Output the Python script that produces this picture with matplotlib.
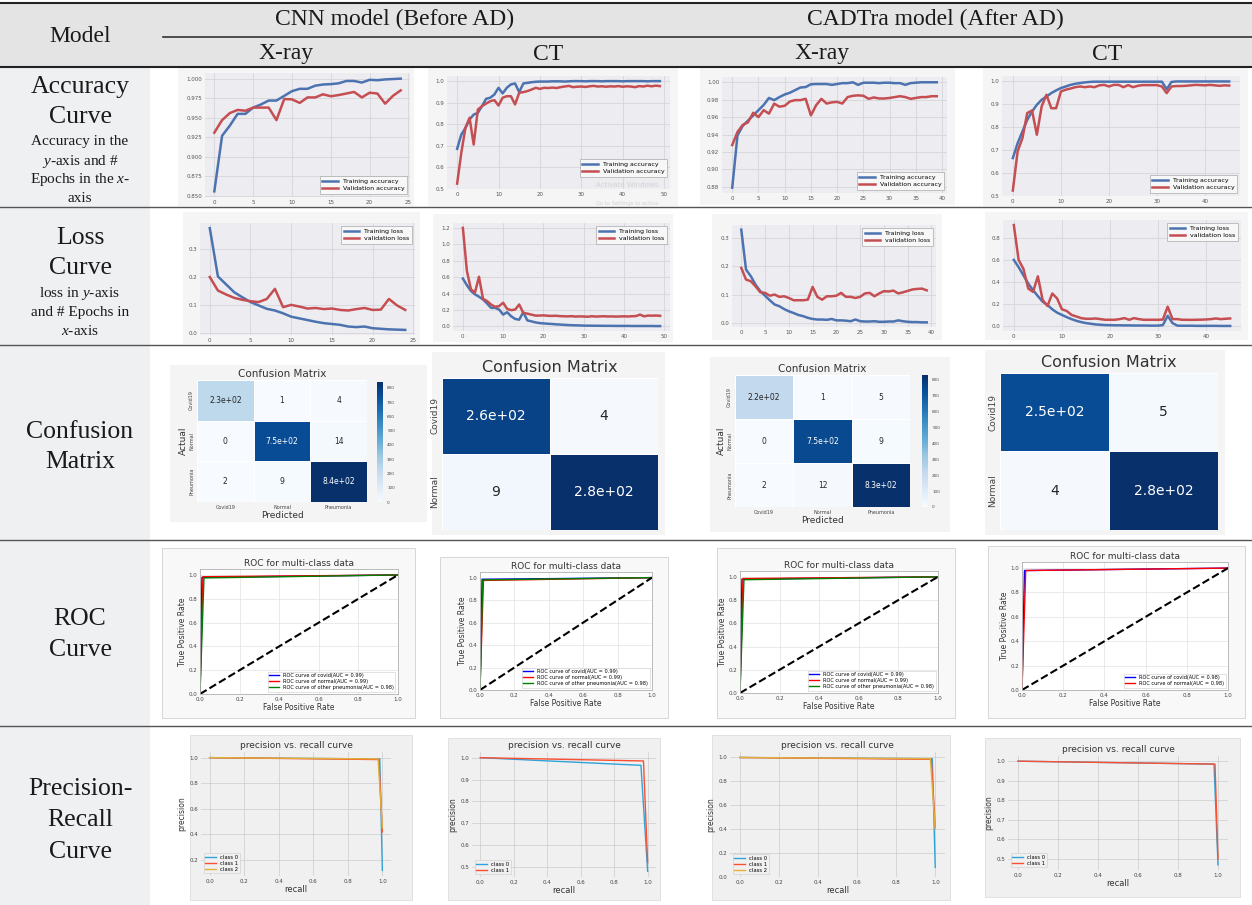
import numpy as np
import matplotlib
matplotlib.use('Agg')
import matplotlib.pyplot as plt
from matplotlib.patches import Rectangle
from matplotlib.lines import Line2D
from matplotlib.ticker import FormatStrFormatter

plt.rcParams['mathtext.fontset'] = 'custom'
plt.rcParams['mathtext.rm'] = 'Liberation Serif'
plt.rcParams['mathtext.it'] = 'Liberation Serif:italic'

# ---- data ----
acc_xray_cnn_train = [0.856, 0.927, 0.940, 0.955, 0.955, 0.963, 0.967, 0.972, 0.972, 0.978,
                      0.984, 0.987, 0.987, 0.991, 0.9925, 0.993, 0.994, 0.997, 0.997, 0.995,
                      0.9985, 0.998, 0.999, 0.9995, 1.0]
acc_xray_cnn_val = [0.931, 0.947, 0.956, 0.960, 0.959, 0.963, 0.963, 0.963, 0.947, 0.974,
                    0.9735, 0.969, 0.976, 0.976, 0.980, 0.9775, 0.979, 0.981, 0.983, 0.976,
                    0.982, 0.981, 0.968, 0.978, 0.985]

acc_ct_cnn_train = [0.686, 0.752, 0.783, 0.822, 0.845, 0.853, 0.884, 0.918, 0.923, 0.938,
                    0.969, 0.943, 0.969, 0.985, 0.989, 0.949, 0.989, 0.992, 0.995, 0.997,
                    0.998, 0.998, 0.998, 0.999, 0.999, 0.999, 0.998, 0.999, 1.0, 1.0,
                    1.0, 0.999, 1.0, 1.0, 1.0, 0.999, 1.0, 1.0, 1.0, 1.0,
                    0.999, 1.0, 1.0, 1.0, 1.0, 1.0, 0.999, 1.0, 1.0, 1.0]
acc_ct_cnn_val = [0.525, 0.667, 0.783, 0.830, 0.706, 0.868, 0.884, 0.896, 0.907, 0.912,
                  0.887, 0.923, 0.930, 0.930, 0.892, 0.946, 0.949, 0.954, 0.961, 0.969,
                  0.964, 0.969, 0.968, 0.970, 0.968, 0.972, 0.975, 0.978, 0.972, 0.974,
                  0.975, 0.973, 0.976, 0.978, 0.975, 0.976, 0.974, 0.976, 0.975, 0.977,
                  0.974, 0.976, 0.975, 0.972, 0.977, 0.975, 0.979, 0.976, 0.979, 0.977]

acc_xray_cad_train = [0.879, 0.939, 0.950, 0.956, 0.962, 0.968, 0.974, 0.982, 0.9795, 0.983,
                      0.986, 0.988, 0.991, 0.994, 0.9945, 0.9977, 0.998, 0.998, 0.998, 0.997,
                      0.998, 0.999, 0.999, 1.0, 0.997, 0.9995, 0.9995, 0.9995, 0.999, 0.9995,
                      0.9995, 0.999, 0.999, 0.997, 0.999, 0.9995, 1.0, 1.0, 1.0, 1.0]
acc_xray_cad_val = [0.928, 0.943, 0.951, 0.954, 0.965, 0.960, 0.968, 0.964, 0.9755, 0.972,
                    0.973, 0.978, 0.9795, 0.9795, 0.981, 0.962, 0.9737, 0.981, 0.9756, 0.977,
                    0.9775, 0.9756, 0.983, 0.9845, 0.985, 0.9845, 0.981, 0.9826, 0.9814, 0.9814,
                    0.982, 0.983, 0.984, 0.983, 0.981, 0.982, 0.983, 0.983, 0.984, 0.984]

acc_ct_cad_train = [0.665, 0.730, 0.781, 0.832, 0.869, 0.898, 0.920, 0.934, 0.949, 0.961,
                    0.971, 0.978, 0.985, 0.990, 0.993, 0.996, 0.998, 0.999, 0.999, 0.999,
                    0.999, 0.999, 0.999, 0.999, 0.999, 0.999, 0.999, 0.999, 0.999, 0.999,
                    0.999, 0.999, 0.966, 0.998, 1.0, 1.0, 1.0, 1.0, 1.0, 1.0,
                    1.0, 1.0, 1.0, 1.0, 1.0, 1.0]
acc_ct_cad_val = [0.523, 0.694, 0.752, 0.862, 0.873, 0.767, 0.891, 0.942, 0.883, 0.883,
                  0.956, 0.964, 0.969, 0.975, 0.978, 0.975, 0.978, 0.975, 0.983, 0.985,
                  0.978, 0.985, 0.985, 0.975, 0.984, 0.975, 0.981, 0.984, 0.984, 0.984,
                  0.984, 0.978, 0.949, 0.978, 0.980, 0.980, 0.981, 0.983, 0.985, 0.984,
                  0.983, 0.985, 0.983, 0.981, 0.983, 0.982]

loss_xray_cnn_train = [0.373, 0.201, 0.173, 0.145, 0.127, 0.110, 0.098, 0.086, 0.080, 0.070,
                       0.058, 0.052, 0.046, 0.040, 0.035, 0.032, 0.029, 0.023, 0.021, 0.023,
                       0.017, 0.015, 0.013, 0.012, 0.011]
loss_xray_cnn_val = [0.199, 0.151, 0.137, 0.125, 0.118, 0.113, 0.110, 0.121, 0.157, 0.092,
                     0.100, 0.094, 0.087, 0.089, 0.085, 0.087, 0.082, 0.080, 0.085, 0.089,
                     0.082, 0.083, 0.121, 0.098, 0.082]

loss_ct_cnn_train = [0.583, 0.502, 0.432, 0.391, 0.362, 0.329, 0.280, 0.226, 0.226, 0.206,
                     0.144, 0.173, 0.123, 0.091, 0.082, 0.173, 0.074, 0.062, 0.049, 0.041,
                     0.037, 0.033, 0.030, 0.026, 0.023, 0.020, 0.017, 0.015, 0.013, 0.012,
                     0.010, 0.009, 0.009, 0.008, 0.008, 0.007, 0.007, 0.007, 0.006, 0.006,
                     0.006, 0.006, 0.005, 0.005, 0.005, 0.005, 0.005, 0.005, 0.004, 0.004]
loss_ct_cnn_val = [1.20, 0.677, 0.453, 0.412, 0.605, 0.337, 0.309, 0.267, 0.239, 0.247,
                   0.288, 0.214, 0.198, 0.206, 0.267, 0.165, 0.156, 0.144, 0.132, 0.132,
                   0.135, 0.130, 0.128, 0.130, 0.126, 0.124, 0.122, 0.125, 0.120, 0.122,
                   0.121, 0.118, 0.124, 0.120, 0.122, 0.124, 0.121, 0.122, 0.120, 0.121,
                   0.123, 0.121, 0.124, 0.126, 0.144, 0.123, 0.132, 0.131, 0.133, 0.129]

loss_xray_cad_train = [0.329, 0.188, 0.165, 0.135, 0.112, 0.096, 0.080, 0.065, 0.059, 0.049,
                       0.041, 0.035, 0.028, 0.024, 0.018, 0.014, 0.012, 0.012, 0.011, 0.014,
                       0.009, 0.009, 0.008, 0.006, 0.012, 0.006, 0.005, 0.005, 0.006, 0.004,
                       0.004, 0.005, 0.005, 0.009, 0.006, 0.004, 0.003, 0.003, 0.002, 0.002]
loss_xray_cad_val = [0.194, 0.153, 0.147, 0.129, 0.108, 0.106, 0.096, 0.100, 0.092, 0.094,
                     0.088, 0.080, 0.080, 0.080, 0.082, 0.127, 0.092, 0.082, 0.094, 0.094,
                     0.096, 0.106, 0.092, 0.092, 0.088, 0.092, 0.104, 0.106, 0.094, 0.104,
                     0.112, 0.111, 0.114, 0.104, 0.108, 0.113, 0.118, 0.120, 0.121, 0.115]

loss_ct_cad_train = [0.603, 0.537, 0.463, 0.388, 0.328, 0.275, 0.224, 0.194, 0.155, 0.125,
                     0.104, 0.084, 0.066, 0.051, 0.039, 0.030, 0.024, 0.018, 0.015, 0.012,
                     0.011, 0.010, 0.010, 0.009, 0.009, 0.008, 0.008, 0.008, 0.007, 0.007,
                     0.007, 0.012, 0.096, 0.030, 0.007, 0.006, 0.006, 0.006, 0.005, 0.005,
                     0.005, 0.005, 0.005, 0.004, 0.004, 0.004]
loss_ct_cad_val = [0.919, 0.603, 0.522, 0.343, 0.313, 0.454, 0.239, 0.185, 0.298, 0.254,
                   0.155, 0.140, 0.104, 0.090, 0.075, 0.069, 0.069, 0.072, 0.066, 0.060,
                   0.060, 0.060, 0.066, 0.075, 0.060, 0.075, 0.066, 0.060, 0.060, 0.060,
                   0.060, 0.062, 0.179, 0.066, 0.066, 0.060, 0.060, 0.059, 0.060, 0.061,
                   0.063, 0.066, 0.072, 0.066, 0.069, 0.072]

cm_labels_3 = ['Covid19', 'Normal', 'Pneumonia']
cm_labels_2 = ['Covid19', 'Normal']
cm_xray_cnn = [[230, 1, 4], [0, 750, 14], [2, 9, 840]]
cm_ct_cnn = [[260, 4], [9, 280]]
cm_xray_cad = [[220, 1, 5], [0, 750, 9], [2, 12, 830]]
cm_ct_cad = [[250, 5], [4, 280]]

roc_classes = ['covid', 'normal', 'other pneumonia']
chance = [0, 1]
roc_xray_cnn_fpr = [[0.0, 0.010, 1.0], [0.0, 0.015, 1.0], [0.0, 0.020, 1.0]]
roc_xray_cnn_tpr = [[0.0, 0.980, 1.0], [0.0, 0.985, 1.0], [0.0, 0.975, 1.0]]
roc_xray_cnn_auc = [0.99, 0.99, 0.98]
roc_ct_cnn_fpr = [[0.0, 0.012, 1.0], [0.0, 0.020, 1.0], [0.0, 0.016, 1.0]]
roc_ct_cnn_tpr = [[0.0, 0.985, 1.0], [0.0, 0.975, 1.0], [0.0, 0.980, 1.0]]
roc_ct_cnn_auc = [0.99, 0.99, 0.98]
roc_xray_cad_fpr = [[0.0, 0.010, 1.0], [0.0, 0.015, 1.0], [0.0, 0.020, 1.0]]
roc_xray_cad_tpr = [[0.0, 0.980, 1.0], [0.0, 0.985, 1.0], [0.0, 0.975, 1.0]]
roc_xray_cad_auc = [0.99, 0.99, 0.98]
roc_ct_cad_fpr = [[0.0, 0.012, 1.0], [0.0, 0.018, 1.0]]
roc_ct_cad_tpr = [[0.0, 0.980, 1.0], [0.0, 0.980, 1.0]]
roc_ct_cad_auc = [0.98, 0.98]

pr_xray_cnn_recall = [[0.0, 0.985, 1.0], [0.0, 0.980, 1.0], [0.0, 0.975, 1.0]]
pr_xray_cnn_precision = [[1.0, 0.990, 0.12], [1.0, 0.985, 0.42], [1.0, 0.990, 0.45]]
pr_ct_cnn_recall = [[0.0, 0.960, 1.0], [0.0, 0.975, 1.0]]
pr_ct_cnn_precision = [[1.0, 0.965, 0.48], [1.0, 0.985, 0.52]]
pr_xray_cad_recall = [[0.0, 0.985, 1.0], [0.0, 0.980, 1.0], [0.0, 0.975, 1.0]]
pr_xray_cad_precision = [[1.0, 0.990, 0.08], [1.0, 0.985, 0.42], [1.0, 0.990, 0.40]]
pr_ct_cad_recall = [[0.0, 0.980, 1.0], [0.0, 0.985, 1.0]]
pr_ct_cad_precision = [[1.0, 0.985, 0.47], [1.0, 0.985, 0.50]]

# ---- figure helpers (pixel boxes: x0, y0(top), x1, y1(bottom)) ----
W, H = 1252, 905
fig = plt.figure(figsize=(W / 100, H / 100), dpi=100)


def fbox(x0, y0, x1, y1):
    return [x0 / W, 1 - y1 / H, (x1 - x0) / W, (y1 - y0) / H]


def add_ax(box):
    return fig.add_axes(fbox(*box))


def add_bg(box, color, edge='none'):
    b = fbox(*box)
    fig.add_artist(Rectangle((b[0], b[1]), b[2], b[3], transform=fig.transFigure,
                             facecolor=color, edgecolor=edge, lw=0.6, zorder=-2))


def hline(y, x0=0, x1=W, lw=1.0, color='#444444'):
    fig.add_artist(Line2D([x0 / W, x1 / W], [1 - y / H, 1 - y / H],
                          transform=fig.transFigure, lw=lw, color=color))


def ftext(x, y, s, size):
    fig.text(x / W, 1 - y / H, s, fontsize=size, ha='center', va='center',
             family='Liberation Serif', color='#1a1a1a')


def curve_panel(box, bg, train, val, labels, loc, yticks, yfmt, xticks, anchor=None):
    add_bg(bg, '#f5f5f6')
    ax = add_ax(box)
    ax.set_facecolor('#ededf1')
    ep = np.arange(len(train))
    ax.plot(ep, train, color='#4c72b0', lw=1.8, label=labels[0])
    ax.plot(ep, val, color='#c44e52', lw=1.8, label=labels[1])
    ax.set_yticks(yticks)
    ax.set_xticks(xticks)
    ax.yaxis.set_major_formatter(FormatStrFormatter(yfmt))
    ax.grid(True, color='#d5d5da', lw=0.6)
    ax.set_axisbelow(True)
    for s in ax.spines.values():
        s.set_visible(False)
    ax.tick_params(labelsize=4, colors='#555555', length=0, pad=2)
    leg = ax.legend(loc=loc, bbox_to_anchor=anchor, fontsize=4.5, frameon=True,
                    fancybox=False, edgecolor='#aaaaaa', facecolor='#f7f7f7',
                    framealpha=1, handlelength=2.5, borderpad=0.4, labelspacing=0.3)
    leg.get_frame().set_linewidth(0.5)
    return ax


def cm_panel(box, bg, cm, labels, title_size, annot_size, tick_size,
             cbar=None, small=True, title_pad=2):
    add_bg(bg, '#f4f4f5')
    ax = add_ax(box)
    data = np.array(cm)
    n = len(data)
    mesh = ax.pcolormesh(data, cmap='Blues', vmin=0, vmax=data.max(),
                         edgecolors='white', linewidth=0.6)
    ax.set_xlim(0, n)
    ax.set_ylim(n, 0)
    for i in range(n):
        for j in range(n):
            v = data[i, j]
            ax.text(j + 0.5, i + 0.5, format(v, '.2g'), ha='center', va='center',
                    fontsize=annot_size,
                    color='white' if v > data.max() * 0.5 else '#262626')
    ax.set_title('Confusion Matrix', fontsize=title_size, color='#333333', pad=title_pad)
    ax.set_yticks(np.arange(n) + 0.5)
    ax.set_yticklabels(labels, rotation=90, va='center')
    if small:
        ax.set_xticks(np.arange(n) + 0.5)
        ax.set_xticklabels(labels)
        ax.set_xlabel('Predicted', fontsize=6.5, color='#333333', labelpad=1)
        ax.set_ylabel('Actual', fontsize=6.5, color='#333333', labelpad=1)
    else:
        ax.set_xticks([])
    for s in ax.spines.values():
        s.set_visible(False)
    ax.tick_params(labelsize=tick_size, colors='#444444', length=0, pad=2)
    if cbar is not None:
        cax = add_ax(cbar)
        cb = fig.colorbar(mesh, cax=cax)
        cb.outline.set_visible(False)
        cb.set_ticks(np.arange(0, 900, 100))
        cax.tick_params(labelsize=3, length=0, pad=3, colors='#444444')
    return ax


def roc_panel(box, bg, fprs, tprs, aucs, colors):
    add_bg(bg, '#f8f8f8', edge='#d0d0d0')
    ax = add_ax(box)
    ax.set_facecolor('white')
    for f, t, name, a, c in zip(fprs, tprs, roc_classes, aucs, colors):
        ax.plot(f, t, color=c, lw=1.0, label=f'ROC curve of {name}(AUC = {a:.2f})')
    ax.plot(chance, chance, 'k--', lw=1.5)
    ax.set_xlim(0, 1)
    ax.set_ylim(0, 1.05)
    ax.set_xticks(np.linspace(0, 1, 6))
    ax.set_yticks(np.linspace(0, 1, 6))
    ax.grid(True, color='#e2e2e2', lw=0.5)
    for s in ax.spines.values():
        s.set_color('#b0b0b0')
        s.set_linewidth(0.6)
    ax.tick_params(labelsize=4, colors='#444444', length=0, pad=2)
    ax.set_title('ROC for multi-class data', fontsize=6.5, color='#333333', pad=2)
    ax.set_xlabel('False Positive Rate', fontsize=5.5, color='#333333', labelpad=1)
    ax.set_ylabel('True Positive Rate', fontsize=5.5, color='#333333', labelpad=1)
    leg = ax.legend(loc='lower right', fontsize=3.6, frameon=True, fancybox=False,
                    edgecolor='#cccccc', framealpha=1, handlelength=2.0,
                    borderpad=0.3, labelspacing=0.2)
    leg.get_frame().set_linewidth(0.4)
    return ax


pr_colors = ['#30a2da', '#fc4f30', '#e5ae38']


def pr_panel(box, bg, recalls, precs, yticks):
    add_bg(bg, '#f0f0f0', edge='#dddddd')
    ax = add_ax(box)
    ax.set_facecolor('#f0f0f0')
    for k, (r, p) in enumerate(zip(recalls, precs)):
        ax.plot(r, p, color=pr_colors[k], lw=1.0, label=f'class {k}')
    ax.set_xticks(np.linspace(0, 1, 6))
    ax.set_yticks(yticks)
    ax.yaxis.set_major_formatter(FormatStrFormatter('%.1f'))
    ax.grid(True, color='#cbcbcb', lw=0.5)
    ax.set_axisbelow(True)
    for s in ax.spines.values():
        s.set_visible(False)
    ax.tick_params(labelsize=4, colors='#444444', length=0, pad=2)
    ax.set_title('precision vs. recall curve', fontsize=6.5, color='#333333', pad=3)
    ax.set_xlabel('recall', fontsize=6, color='#333333', labelpad=1)
    ax.set_ylabel('precision', fontsize=5.5, color='#333333', labelpad=2)
    leg = ax.legend(loc='lower left', fontsize=3.8, frameon=True, fancybox=False,
                    edgecolor='#cccccc', facecolor='#f0f0f0', framealpha=1,
                    handlelength=2.0, borderpad=0.3, labelspacing=0.2)
    leg.get_frame().set_linewidth(0.4)
    return ax


# ---- table frame ----
add_bg((0, 3, W, 67), '#e4e4e4')
add_bg((0, 67, 150, H), '#eff0f2')
hline(3, lw=1.5, color='#222222')
hline(67, lw=1.5, color='#222222')
hline(37, x0=163, lw=1.2, color='#333333')
for yy in [207, 345, 540, 726]:
    hline(yy, lw=1.0, color='#555555')

ftext(80, 37, 'Model', 17)
ftext(395, 19, 'CNN model (Before AD)', 17)
ftext(935, 19, 'CADTra model (After AD)', 17)
ftext(286, 54, 'X-ray', 17)
ftext(548, 54, 'CT', 17)
ftext(822, 54, 'X-ray', 17)
ftext(1107, 54, 'CT', 17)

ftext(80, 87, 'Accuracy', 18.5)
ftext(80, 117, 'Curve', 18.5)
ftext(80, 142, 'Accuracy in the', 11)
ftext(80, 161, '$y$-axis and #', 11)
ftext(80, 180, 'Epochs in the $x$-', 11)
ftext(80, 198, 'axis', 11)

ftext(80, 238, 'Loss', 18.5)
ftext(80, 268, 'Curve', 18.5)
ftext(80, 293, 'loss in $y$-axis', 11)
ftext(80, 312, 'and # Epochs in', 11)
ftext(80, 331, '$x$-axis', 11)

ftext(80, 432, 'Confusion', 18.5)
ftext(80, 462, 'Matrix', 18.5)
ftext(80, 619, 'ROC', 18.5)
ftext(80, 650, 'Curve', 18.5)
ftext(80, 789, 'Precision-', 18.5)
ftext(80, 820, 'Recall', 18.5)
ftext(80, 852, 'Curve', 18.5)

# ---- accuracy row ----
acc_labels = ['Training accuracy', 'Validation accuracy']
curve_panel((205, 73, 410, 197), (178, 68, 414, 206), acc_xray_cnn_train, acc_xray_cnn_val,
            acc_labels, 'lower right', np.arange(0.85, 1.001, 0.025), '%.3f', np.arange(0, 26, 5))
curve_panel((447, 76, 670, 189), (428, 68, 678, 206), acc_ct_cnn_train, acc_ct_cnn_val,
            acc_labels, 'lower right', np.arange(0.5, 1.01, 0.1), '%.1f', np.arange(0, 51, 10),
            anchor=(1.0, 0.08))
# screenshot watermark under the legend
fig.text(596 / W, 1 - 185 / H, 'Activate Windows', fontsize=5, color='#d2d2d2', va='center')
fig.text(596 / W, 1 - 203 / H, 'Go to Settings to activa', fontsize=3.8, color='#d2d2d2',
         va='center')
curve_panel((722, 77, 947, 193), (700, 68, 955, 205), acc_xray_cad_train, acc_xray_cad_val,
            acc_labels, 'lower right', np.arange(0.88, 1.001, 0.02), '%.2f', np.arange(0, 41, 5))
curve_panel((1002, 76, 1240, 196), (983, 68, 1248, 206), acc_ct_cad_train, acc_ct_cad_val,
            acc_labels, 'lower right', np.arange(0.5, 1.01, 0.1), '%.1f', np.arange(0, 41, 10))

# ---- loss row ----
loss_labels = ['Training loss', 'validation loss']
curve_panel((200, 223, 415, 335), (183, 212, 420, 344), loss_xray_cnn_train, loss_xray_cnn_val,
            loss_labels, 'upper right', np.arange(0, 0.31, 0.1), '%.1f', np.arange(0, 26, 5))
curve_panel((453, 223, 670, 331), (433, 214, 673, 342), loss_ct_cnn_train, loss_ct_cnn_val,
            loss_labels, 'upper right', np.arange(0, 1.21, 0.2), '%.1f', np.arange(0, 51, 10))
curve_panel((732, 225, 936, 327), (712, 214, 942, 340), loss_xray_cad_train, loss_xray_cad_val,
            loss_labels, 'upper right', np.arange(0, 0.31, 0.1), '%.1f', np.arange(0, 41, 5))
curve_panel((1003, 220, 1241, 331), (985, 212, 1248, 340), loss_ct_cad_train, loss_ct_cad_val,
            loss_labels, 'upper right', np.arange(0, 0.81, 0.2), '%.1f', np.arange(0, 41, 10))

# ---- confusion matrices ----
cm_panel((197, 380, 367, 502), (170, 365, 427, 522), cm_xray_cnn, cm_labels_3,
         7.5, 5.5, 3.5, cbar=(377, 382, 383, 502))
cm_panel((442, 378, 658, 530), (432, 352, 665, 535), cm_ct_cnn, cm_labels_2,
         11.5, 10, 6.5, small=False, title_pad=4)
cm_panel((735, 375, 910, 507), (710, 357, 950, 532), cm_xray_cad, cm_labels_3,
         7.5, 5.5, 3.5, cbar=(922, 375, 928, 507))
cm_panel((1000, 373, 1218, 530), (985, 350, 1225, 535), cm_ct_cad, cm_labels_2,
         11.5, 10, 6.5, small=False, title_pad=4)

# ---- ROC row ----
roc_panel((200, 569, 398, 694), (162, 548, 415, 718), roc_xray_cnn_fpr, roc_xray_cnn_tpr,
          roc_xray_cnn_auc, ['blue', 'red', 'green'])
roc_panel((480, 572, 652, 690), (440, 557, 668, 718), roc_ct_cnn_fpr, roc_ct_cnn_tpr,
          roc_ct_cnn_auc, ['blue', 'red', 'green'])
roc_panel((740, 571, 938, 693), (717, 548, 955, 718), roc_xray_cad_fpr, roc_xray_cad_tpr,
          roc_xray_cad_auc, ['blue', 'red', 'green'])
roc_panel((1022, 562, 1228, 690), (988, 546, 1245, 718), roc_ct_cad_fpr, roc_ct_cad_tpr,
          roc_ct_cad_auc, ['blue', 'red'])

# ---- precision-recall row ----
pr_panel((201, 752, 391, 876), (190, 735, 412, 900), pr_xray_cnn_recall, pr_xray_cnn_precision,
         np.arange(0.2, 1.01, 0.2))
pr_panel((472, 752, 656, 877), (448, 738, 660, 900), pr_ct_cnn_recall, pr_ct_cnn_precision,
         np.arange(0.5, 1.01, 0.1))
pr_panel((730, 752, 945, 877), (712, 735, 950, 900), pr_xray_cad_recall, pr_xray_cad_precision,
         np.arange(0.0, 1.01, 0.2))
pr_panel((1008, 756, 1228, 870), (985, 738, 1240, 897), pr_ct_cad_recall, pr_ct_cad_precision,
         np.arange(0.5, 1.01, 0.1))

fig.savefig('out.png', dpi=100)
